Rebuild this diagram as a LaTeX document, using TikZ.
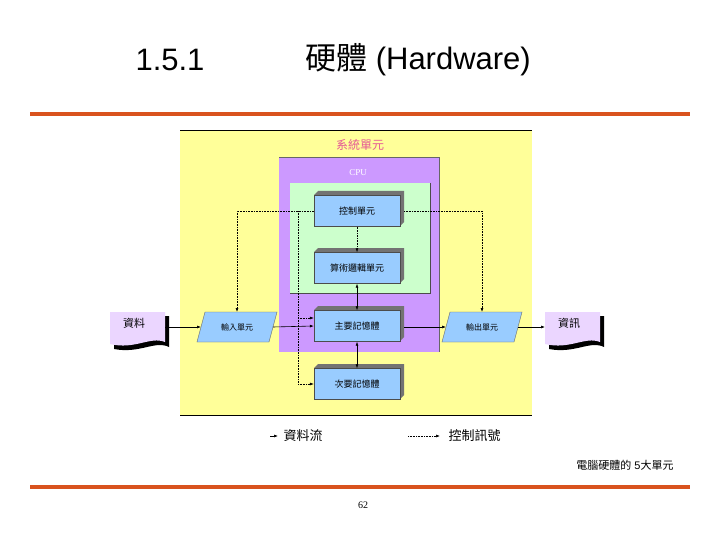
\documentclass[tikz,border=0pt]{standalone}
\usepackage{fontspec}
\setmainfont{Liberation Sans}
\newfontfamily\cjk{Noto Sans CJK TC}
\newfontfamily\serifx{Liberation Serif}
\usetikzlibrary{arrows.meta}
\definecolor{ylw}{HTML}{FFFF99}
\definecolor{cpu}{HTML}{CC99FF}
\definecolor{grn}{HTML}{CCFFCC}
\definecolor{blu}{HTML}{99CCFF}
\definecolor{org}{HTML}{D9531E}
\begin{document}
\begin{tikzpicture}[x=1pt,y=-1pt,
  unit/.style={draw=black!70,fill=blu,minimum width=86pt,minimum height=31pt,font=\cjk\fontsize{9}{9}\selectfont,inner sep=0pt},
  flow/.style={-{Latex[length=4pt,width=3pt]},line width=0.6pt},
  ctl/.style={densely dotted,-{Latex[length=4pt,width=3pt]},line width=0.6pt}]
\useasboundingbox (0,0) rectangle (720,540);
\fill[white] (0,0) rectangle (720,540);
\node[font=\fontsize{31}{31}\selectfont] (t1) at (170,60) {1.5.1};
\node[font=\fontsize{31}{31}\selectfont] (t2) at (418,60) {{\cjk 硬體} (Hardware)};
\draw[org,line width=3.5pt] (30,114) -- (690,114);
\draw[org,line width=3.5pt] (30,487) -- (690,487);
% yellow area
\fill[ylw] (180,130) rectangle (532,415);
\draw[line width=0.7pt] (180,130) -- (532,130) (180,415) -- (532,415);
\node[font=\cjk\fontsize{12}{12}\selectfont,text=magenta!60!purple!70] (sys) at (360,145) {系統單元};
\fill[cpu] (279,157) rectangle (439,352);
\draw[black!60] (279,157) -- (439,157) -- (439,352);
\node[font=\serifx\fontsize{9}{9}\selectfont,text=white] (cpul) at (358,173) {CPU};
\fill[grn] (290,183) rectangle (430,293);
\draw[black!70] (430,183) -- (430,293) -- (290,293);
% 3D boxes
\foreach \n/\y/\t in {cu/211/控制單元,alu/268/算術邏輯單元,mm/326/主要記憶體,sm/384/次要記憶體}{
  \fill[black!55] (314,\y-16) -- (318,\y-20) -- (404,\y-20) -- (404,\y+11) -- (400,\y+15) -- cycle;
  \node[unit] (\n) at (357,\y) {\t};
}
\fill[blu,draw=black!60] (205,312) -- (277,312) -- (269,342) -- (197,342) -- cycle;
\node[font=\cjk\fontsize{8}{8}\selectfont] (inl) at (237,327) {輸入單元};
\fill[blu,draw=black!60] (450,312) -- (522,312) -- (514,342) -- (442,342) -- cycle;
\node[font=\cjk\fontsize{8}{8}\selectfont] (out) at (482,327) {輸出單元};
% documents
\foreach \n/\x/\t in {d1/110/資料,d2/545/資訊}{
  \fill[black] (\x+4,316) -- (\x+59,316) -- (\x+59,347) .. controls (\x+45,340) and (\x+30,354) .. (\x+4,349) -- cycle;
  \fill[cpu!40!white] (\x,312) -- (\x+55,312) -- (\x+55,342) .. controls (\x+40,336) and (\x+25,350) .. (\x,344) -- cycle;
  \node[font=\cjk\fontsize{11}{11}\selectfont] (\n) at (\x+24,323) {\t};
}
% data flow
\coordinate (dR) at (165,327); \coordinate (iL) at (201,327);
\draw[flow] (dR) -- (iL);
\draw[flow] (273,327) -- (mm.west);
\draw[flow] (404,327) -- (446,327);
\coordinate (oR) at (518,327); \coordinate (d2L) at (545,327);
\draw[flow] (oR) -- (d2L);
\draw[flow] (alu.south) ++(0,10) -- (alu.south);
\draw[flow] (alu.south) ++(0,10) -- (mm.north);
\draw[flow] (mm.south) ++(0,11) -- (mm.south);
\draw[flow] (mm.south) ++(0,11) -- (sm.north);
% control
\draw[ctl] (cu.west) -- (237,211) -- (237,312);
\draw[ctl] (404,211) -- (482,211) -- (482,312);
\draw[ctl] (cu.south) -- (alu.north);
\draw[densely dotted,line width=0.6pt] (298,211) -- (298,384);
\draw[ctl] (298,318) -- (mm.west |- 0,318);
\draw[ctl] (298,384) -- (sm.west);
% legend
\coordinate (lg1) at (270,436); \coordinate (lg1b) at (278,436);
\draw[flow] (lg1) -- (lg1b);
\node[font=\cjk\fontsize{13}{13}\selectfont,anchor=west] (lt1) at (280,436) {資料流};
\coordinate (lg2) at (408,436); \coordinate (lg2b) at (440,436);
\draw[ctl] (lg2) -- (lg2b);
\node[font=\cjk\fontsize{13}{13}\selectfont,anchor=west] (lt2) at (445,436) {控制訊號};
\node[font=\fontsize{11}{11}\selectfont] (cap) at (625,465) {{\cjk 電腦硬體的} 5{\cjk 大單元}};
\node[font=\serifx\fontsize{10}{10}\selectfont] (pg) at (363,505) {62};
\end{tikzpicture}
\end{document}
